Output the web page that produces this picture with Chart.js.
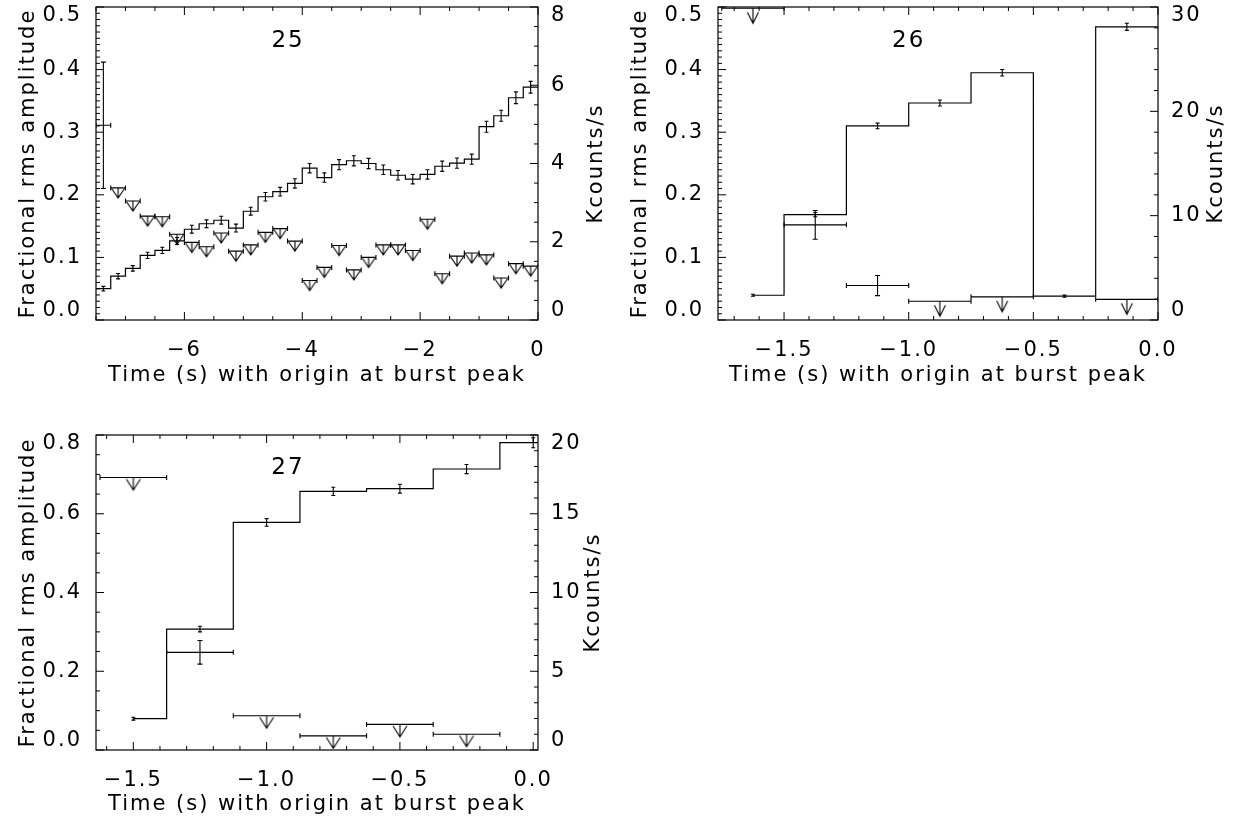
<!DOCTYPE html>
<html>
<head>
<meta charset="utf-8">
<script src="https://cdn.jsdelivr.net/npm/chart.js@4.4.1/dist/chart.umd.min.js"></script>
<style>
  html, body { margin: 0; padding: 0; background: #fff; }
  body { width: 1243px; height: 827px; position: relative; overflow: hidden; }
  canvas { position: absolute; }
</style>
</head>
<body>
<canvas id="p25" width="620" height="410" style="left:0px;top:0px"></canvas>
<canvas id="p26" width="623" height="410" style="left:620px;top:0px"></canvas>
<canvas id="p27" width="620" height="412" style="left:0px;top:415px"></canvas>
<script>
// burst 25
const p25Time = [-7.375, -7.125, -6.875, -6.625, -6.375, -6.125, -5.875, -5.625, -5.375, -5.125,
  -4.875, -4.625, -4.375, -4.125, -3.875, -3.625, -3.375, -3.125, -2.875, -2.625,
  -2.375, -2.125, -1.875, -1.625, -1.375, -1.125, -0.875, -0.625, -0.375, -0.125];
const p25Rate = [0.80, 1.12, 1.32, 1.65, 1.78, 2.02, 2.32, 2.46, 2.55, 2.35,
  2.78, 3.15, 3.28, 3.49, 3.88, 3.64, 3.97, 4.07, 4.00, 3.84,
  3.70, 3.60, 3.72, 3.93, 4.01, 4.11, 4.94, 5.22, 5.68, 5.95];
const p25RateErr = [0.06, 0.07, 0.07, 0.08, 0.08, 0.09, 0.10, 0.10, 0.10, 0.10,
  0.10, 0.11, 0.11, 0.12, 0.12, 0.12, 0.13, 0.13, 0.13, 0.12,
  0.12, 0.12, 0.12, 0.13, 0.13, 0.13, 0.14, 0.14, 0.15, 0.15];
const p25RmsTime = [-7.375];
const p25Rms = [0.311];
const p25RmsErr = [0.101];
const p25UlTime = [-7.125, -6.875, -6.625, -6.375, -6.125, -5.875, -5.625, -5.375, -5.125,
  -4.875, -4.625, -4.375, -4.125, -3.875, -3.625, -3.375, -3.125, -2.875, -2.625,
  -2.375, -2.125, -1.875, -1.625, -1.375, -1.125, -0.875, -0.625, -0.375, -0.125];
const p25Ul = [0.211, 0.190, 0.166, 0.165, 0.137, 0.124, 0.117, 0.139, 0.110,
  0.120, 0.140, 0.146, 0.126, 0.063, 0.084, 0.119, 0.080, 0.100, 0.120,
  0.120, 0.111, 0.161, 0.074, 0.102, 0.107, 0.104, 0.067, 0.090, 0.086];
const p25XTicks = [-6, -4, -2, 0];
const p25RmsTicks = [0, 0.1, 0.2, 0.3, 0.4, 0.5];
const p25RateTicks = [0, 2, 4, 6, 8];

// burst 26
const p26Time = [-1.625, -1.375, -1.125, -0.875, -0.625, -0.375, -0.125];
const p26Rate = [2.37, 10.1, 18.6, 20.8, 23.7, 2.28, 28.1];
const p26RateErr = [0.10, 0.20, 0.27, 0.29, 0.31, 0.10, 0.34];
const p26RmsTime = [-1.375, -1.125];
const p26Rms = [0.152, 0.055];
const p26RmsErr = [0.023, 0.016];
const p26UlTime = [-1.625, -0.875, -0.625, -0.125];
const p26Ul = [0.498, 0.030, 0.037, 0.033];
const p26XTicks = [-1.5, -1.0, -0.5, 0];
const p26RmsTicks = [0, 0.1, 0.2, 0.3, 0.4, 0.5];
const p26RateTicks = [0, 10, 20, 30];

// burst 27
const p27Time = [-1.5, -1.25, -1.0, -0.75, -0.5, -0.25, 0.0];
const p27Rate = [1.99, 7.68, 14.45, 16.42, 16.59, 17.84, 19.51];
const p27RateErr = [0.09, 0.18, 0.24, 0.26, 0.28, 0.29, 0.32];
const p27RmsTime = [-1.25];
const p27Rms = [0.248];
const p27RmsErr = [0.030];
const p27UlTime = [-1.5, -1.0, -0.75, -0.5, -0.25];
const p27Ul = [0.692, 0.087, 0.036, 0.065, 0.040];
const p27XTicks = [-1.5, -1.0, -0.5, 0];
const p27RmsTicks = [0, 0.2, 0.4, 0.6, 0.8];
const p27RateTicks = [0, 5, 10, 15, 20];

const FONT = "'DejaVu Sans', sans-serif";
const tickFont = { family: FONT, size: 21, lineHeight: 0.86 };
const titleFont = { family: FONT, size: 21, lineHeight: 1.2 };

function pts(t, v) {
  return t.map((x, i) => ({ x: x, y: v[i] }));
}

// IDL-like histogram line: value held over each bin, steps half way between centres
function stepPoints(t, v, from, to) {
  const out = [{ x: from, y: v[0] }];
  for (let i = 1; i < t.length; i++) out.push({ x: (t[i - 1] + t[i]) / 2, y: v[i] });
  out.push({ x: to, y: v[v.length - 1] });
  return out;
}

function arrowImage(len, hw, hh) {
  const c = document.createElement("canvas");
  c.width = 2 * Math.ceil(hw) + 4;
  c.height = 2 * Math.ceil(len) + 4;
  const g = c.getContext("2d");
  const cx = c.width / 2;
  const top = c.height / 2;
  g.strokeStyle = "#000";
  g.lineWidth = 1.1;
  g.beginPath();
  g.moveTo(cx, top);
  g.lineTo(cx, top + len);
  g.moveTo(cx - hw, top + len - hh);
  g.lineTo(cx, top + len);
  g.lineTo(cx + hw, top + len - hh);
  g.stroke();
  return c;
}

const signed = (dec) => (v) => (v < 0 ? "\u2212" : "") + Math.abs(v).toFixed(dec);

// push the end labels inwards like the original plot does
const endShift = (fmt) => (v, i, ticks) => {
  const s = fmt(v);
  if (i === ticks.length - 1) return ["", s];
  if (i === 0) return [s, ""];
  return s;
};

const spacing = {
  id: "spacing",
  beforeUpdate(chart) { chart.ctx.letterSpacing = "2px"; },
  beforeDraw(chart) { chart.ctx.letterSpacing = "2px"; },
};

const errorBars = {
  id: "errorBars",
  afterDatasetsDraw(chart) {
    const { ctx, chartArea: a } = chart;
    const xs = chart.scales.x;
    ctx.save();
    ctx.beginPath();
    ctx.rect(a.left, a.top, a.width, a.height);
    ctx.clip();
    ctx.strokeStyle = "#000";
    ctx.lineWidth = 1.1;
    chart.data.datasets.forEach((ds) => {
      if (!ds.errY && !ds.errX) return;
      const ys = chart.scales[ds.yAxisID];
      ds.data.forEach((p, i) => {
        const px = xs.getPixelForValue(p.x);
        const py = ys.getPixelForValue(p.y);
        ctx.beginPath();
        if (ds.errY) {
          const y1 = ys.getPixelForValue(p.y - ds.errY[i]);
          const y2 = ys.getPixelForValue(p.y + ds.errY[i]);
          const c = ds.capY;
          ctx.moveTo(px, y1); ctx.lineTo(px, y2);
          ctx.moveTo(px - c, y1); ctx.lineTo(px + c, y1);
          ctx.moveTo(px - c, y2); ctx.lineTo(px + c, y2);
        }
        if (ds.errX) {
          const x1 = xs.getPixelForValue(p.x - ds.errX);
          const x2 = xs.getPixelForValue(p.x + ds.errX);
          const c = ds.capX;
          ctx.moveTo(x1, py); ctx.lineTo(x2, py);
          ctx.moveTo(x1, py - c); ctx.lineTo(x1, py + c);
          ctx.moveTo(x2, py - c); ctx.lineTo(x2, py + c);
        }
        ctx.stroke();
      });
    });
    ctx.restore();
  },
};

// box round the plot with inward major / minor ticks
const frameTicks = {
  id: "frameTicks",
  afterDraw(chart, args, opts) {
    const { ctx, chartArea: a, scales } = chart;
    ctx.save();
    ctx.strokeStyle = "#000";
    ctx.lineWidth = 1.2;
    ctx.strokeRect(a.left, a.top, a.width, a.height);
    ctx.lineWidth = 1;
    ctx.beginPath();
    const each = (scale, step, fn) => {
      const major = scale.ticks.map((t) => t.value);
      const k0 = Math.ceil(scale.min / step - 1e-6);
      for (let k = k0; k * step <= scale.max + 1e-6; k++) {
        const v = k * step;
        const isMajor = major.some((m) => Math.abs(m - v) < step / 10);
        fn(scale.getPixelForValue(v), isMajor ? 8 : 4);
      }
    };
    each(scales.x, opts.minor.x, (px, l) => {
      ctx.moveTo(px, a.bottom); ctx.lineTo(px, a.bottom - l);
      ctx.moveTo(px, a.top); ctx.lineTo(px, a.top + l);
    });
    each(scales.yL, opts.minor.yL, (py, l) => {
      ctx.moveTo(a.left, py); ctx.lineTo(a.left + l, py);
    });
    each(scales.yR, opts.minor.yR, (py, l) => {
      ctx.moveTo(a.right, py); ctx.lineTo(a.right - l, py);
    });
    ctx.stroke();
    ctx.restore();
  },
};

const panelText = {
  id: "panelText",
  afterDraw(chart, args, opts) {
    const { ctx, chartArea: a, scales } = chart;
    ctx.save();
    ctx.letterSpacing = "2px";
    ctx.fillStyle = "#000";
    ctx.textAlign = "center";
    ctx.textBaseline = "middle";
    ctx.font = "23px " + FONT;
    ctx.fillText(opts.label, scales.x.getPixelForValue(opts.labelX), scales.yL.getPixelForValue(opts.labelY));
    ctx.font = "21px " + FONT;
    ctx.translate(a.right + opts.rightOffset, (a.top + a.bottom) / 2);
    ctx.rotate(-Math.PI / 2);
    ctx.fillText("Kcounts/s", 0, 0);
    ctx.restore();
  },
};

function buildPanel(id, p) {
  const arrow = arrowImage(p.arrow[0], p.arrow[1], p.arrow[2]);
  return new Chart(document.getElementById(id), {
    type: "line",
    data: {
      datasets: [
        {
          data: stepPoints(p.time, p.rate, p.lineFrom, p.lineTo),
          yAxisID: "yR",
          stepped: "before",
          borderColor: "#000",
          borderWidth: 1.2,
          pointRadius: 0,
          fill: false,
        },
        {
          data: pts(p.time, p.rate),
          yAxisID: "yR",
          showLine: false,
          pointRadius: 0,
          errY: p.rateErr,
          capY: 2,
        },
        {
          data: pts(p.rmsTime, p.rms),
          yAxisID: "yL",
          showLine: false,
          pointRadius: 0,
          errY: p.rmsErr,
          capY: 2.5,
          errX: 0.125,
          capX: 2.5,
        },
        {
          data: pts(p.ulTime, p.ul),
          yAxisID: "yL",
          showLine: false,
          pointStyle: arrow,
          pointRadius: 6,
          borderColor: "#000",
          errX: 0.125,
          capX: 2.5,
        },
      ],
    },
    options: {
      responsive: false,
      animation: false,
      events: [],
      layout: { padding: { top: p.top, left: 0, right: 0, bottom: 0 } },
      plugins: {
        legend: { display: false },
        tooltip: { enabled: false },
        frameTicks: { minor: p.minor },
        panelText: { label: p.label, labelX: p.labelAt[0], labelY: p.labelAt[1], rightOffset: p.rightOffset },
      },
      scales: {
        x: {
          type: "linear",
          min: p.xRange[0],
          max: p.xRange[1],
          afterBuildTicks: (s) => { s.ticks = p.xTicks.map((v) => ({ value: v })); },
          afterFit: (s) => { s.height = p.bottom; s.paddingLeft = 0; s.paddingRight = 0; },
          grid: { display: false },
          border: { display: false },
          ticks: { padding: 14, color: "#000", font: tickFont, maxRotation: 0, autoSkip: false, callback: signed(p.xDec) },
          title: { display: true, text: "Time (s) with origin at burst peak", color: "#000", font: titleFont,
            padding: { top: 0, bottom: p.xTitlePad } },
        },
        yL: {
          type: "linear",
          position: "left",
          min: 0,
          max: p.rmsTicks[p.rmsTicks.length - 1],
          afterBuildTicks: (s) => { s.ticks = p.rmsTicks.map((v) => ({ value: v })); },
          afterFit: (s) => { s.width = p.left; s.paddingTop = 0; s.paddingBottom = 0; },
          grid: { display: false },
          border: { display: false },
          ticks: { padding: 6, color: "#000", font: tickFont, autoSkip: false, callback: endShift((v) => v.toFixed(1)) },
          title: { display: true, text: "Fractional rms amplitude", color: "#000", font: titleFont,
            padding: { top: p.yTitlePad, bottom: 0 } },
        },
        yR: {
          type: "linear",
          position: "right",
          min: 0,
          max: p.rateTicks[p.rateTicks.length - 1],
          afterBuildTicks: (s) => { s.ticks = p.rateTicks.map((v) => ({ value: v })); },
          afterFit: (s) => { s.width = p.right; s.paddingTop = 0; s.paddingBottom = 0; },
          grid: { display: false },
          border: { display: false },
          ticks: { padding: 5, color: "#000", font: tickFont, autoSkip: false, callback: endShift((v) => String(v)) },
        },
      },
    },
    plugins: [spacing, errorBars, frameTicks, panelText],
  });
}

buildPanel("p25", {
  time: p25Time, rate: p25Rate, rateErr: p25RateErr,
  rmsTime: p25RmsTime, rms: p25Rms, rmsErr: p25RmsErr,
  ulTime: p25UlTime, ul: p25Ul,
  xTicks: p25XTicks, rmsTicks: p25RmsTicks, rateTicks: p25RateTicks,
  xRange: [-7.5, 0], xDec: 0, lineFrom: -7.5, lineTo: 0,
  minor: { x: 0.5, yL: 0.01, yR: 0.5 },
  arrow: [10, 6.5, 9.5],
  label: "25", labelAt: [-4.24, 0.446],
  top: 4, bottom: 90, left: 96, right: 82,
  xTitlePad: 21.5, yTitlePad: 16, rightOffset: 59,
});

buildPanel("p26", {
  time: p26Time, rate: p26Rate, rateErr: p26RateErr,
  rmsTime: p26RmsTime, rms: p26Rms, rmsErr: p26RmsErr,
  ulTime: p26UlTime, ul: p26Ul,
  xTicks: p26XTicks, rmsTicks: p26RmsTicks, rateTicks: p26RateTicks,
  xRange: [-1.765, 0], xDec: 1, lineFrom: -1.625, lineTo: 0,
  minor: { x: 0.1, yL: 0.01, yR: 2 },
  arrow: [15, 5.5, 11],
  label: "26", labelAt: [-1.0, 0.446],
  top: 4, bottom: 90, left: 98, right: 85,
  xTitlePad: 21.5, yTitlePad: 8.4, rightOffset: 59,
});

buildPanel("p27", {
  time: p27Time, rate: p27Rate, rateErr: p27RateErr,
  rmsTime: p27RmsTime, rms: p27Rms, rmsErr: p27RmsErr,
  ulTime: p27UlTime, ul: p27Ul,
  xTicks: p27XTicks, rmsTicks: p27RmsTicks, rateTicks: p27RateTicks,
  xRange: [-1.64, 0.018], xDec: 1, lineFrom: -1.5, lineTo: 0.018,
  minor: { x: 0.1, yL: 0.05, yR: 1 },
  arrow: [12.5, 7, 11],
  label: "27", labelAt: [-0.92, 0.716],
  top: 20, bottom: 77, left: 96, right: 82,
  xTitlePad: 9.5, yTitlePad: 16, rightOffset: 56,
});
</script>
</body>
</html>
